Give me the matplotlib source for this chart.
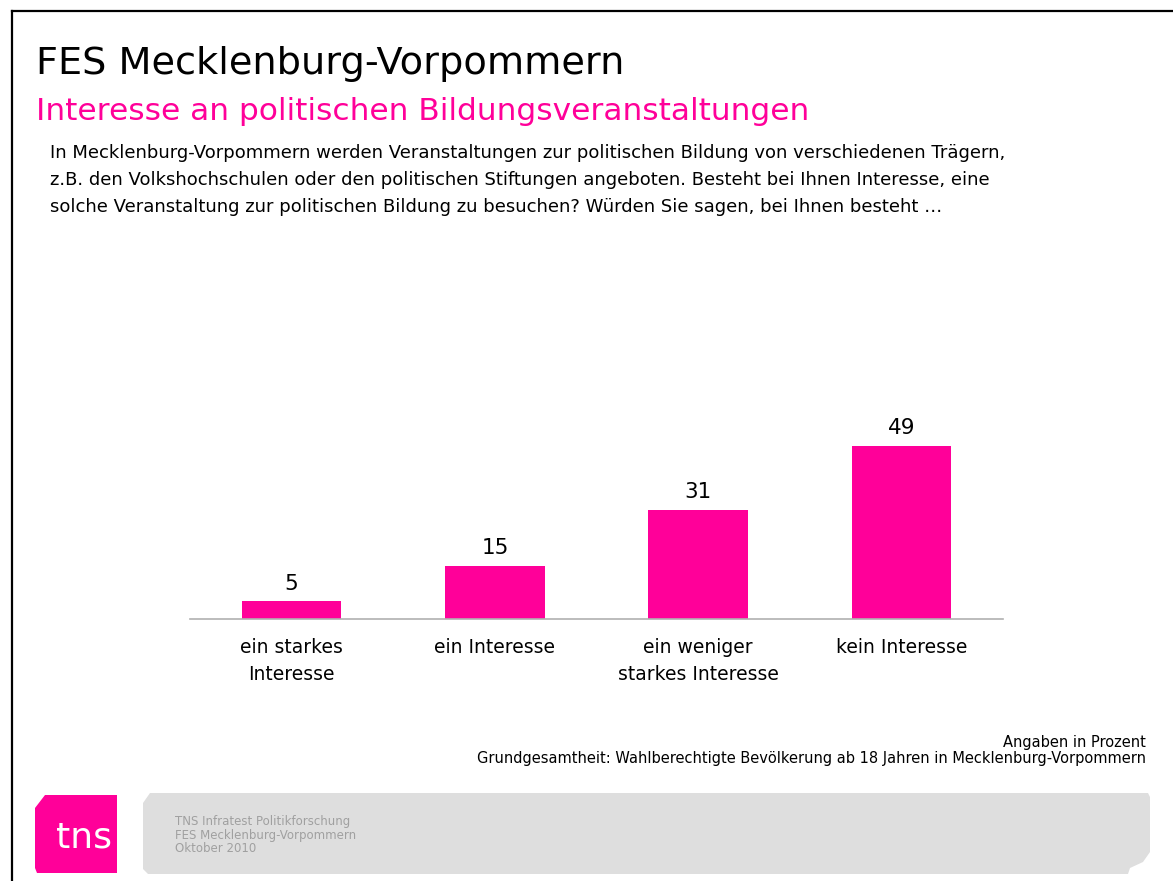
import matplotlib.pyplot as plt
from matplotlib.patches import Polygon
from matplotlib.lines import Line2D

plt.rcParams['font.family'] = ['DejaVu Sans']

# Daten
kategorien = ["ein starkes\nInteresse", "ein Interesse", "ein weniger\nstarkes Interesse", "kein Interesse"]
werte = [5, 15, 31, 49]

titel = "FES Mecklenburg-Vorpommern"
untertitel = "Interesse an politischen Bildungsveranstaltungen"
frage = [
    "In Mecklenburg-Vorpommern werden Veranstaltungen zur politischen Bildung von verschiedenen Trägern,",
    "z.B. den Volkshochschulen oder den politischen Stiftungen angeboten. Besteht bei Ihnen Interesse, eine",
    "solche Veranstaltung zur politischen Bildung zu besuchen? Würden Sie sagen, bei Ihnen besteht …",
]
fussnote = ["Angaben in Prozent",
            "Grundgesamtheit: Wahlberechtigte Bevölkerung ab 18 Jahren in Mecklenburg-Vorpommern"]
quelle = ["TNS Infratest Politikforschung", "FES Mecklenburg-Vorpommern", "Oktober 2010"]

PINK = "#ff0099"
W, H = 1173, 881


def px(x, y):
    return (x / W, 1 - y / H)


fig = plt.figure(figsize=(W / 100, H / 100), dpi=100)

# Rahmen oben / links
fig.add_artist(Line2D([12 / W, 1], [1 - 11 / H] * 2, color="black", lw=1.6, transform=fig.transFigure))
fig.add_artist(Line2D([12 / W] * 2, [0, 1 - 11 / H], color="black", lw=1.6, transform=fig.transFigure))

# Texte
fig.text(*px(36, 64), titel, fontsize=27.5, va="center", ha="left")
fig.text(*px(36, 112), untertitel, fontsize=22.5, color=PINK, va="center", ha="left")
for i, zeile in enumerate(frage):
    fig.text(*px(50, 153 + i * 27), zeile, fontsize=13, va="center", ha="left")

# Balken
ax = fig.add_axes([190 / W, 1 - 619 / H, (1003 - 190) / W, (619 - 380) / H])
x = range(len(werte))
ax.bar(x, werte, width=0.49, color=PINK)
for xi, v in zip(x, werte):
    ax.text(xi, v + 2.2, str(v), ha="center", va="bottom", fontsize=15.5)
ax.set_xlim(-0.5, 3.5)
ax.set_ylim(0, (619 - 380) / 3.53)
ax.set_xticks(list(x))
ax.set_xticklabels(kategorien, fontsize=13.5, linespacing=1.5, va="top")
ax.tick_params(axis="x", length=0, pad=14)
ax.set_yticks([])
for s in ["top", "right", "left"]:
    ax.spines[s].set_visible(False)
ax.spines["bottom"].set_color("#b0b0b0")
ax.spines["bottom"].set_linewidth(1.2)

# Fussnote
fig.text(*px(1146, 743), fussnote[0], fontsize=10.5, ha="right", va="center")
fig.text(*px(1146, 759), fussnote[1], fontsize=10.5, ha="right", va="center")

# grauer Kasten unten
kasten = [(150, 793), (1148, 793), (1150, 797), (1150, 852), (1143, 862), (1130, 868),
          (1128, 874), (148, 874), (143, 869), (143, 803)]
fig.add_artist(Polygon([px(a, b) for a, b in kasten], closed=True, facecolor="#dedede",
                       edgecolor="none", transform=fig.transFigure))
for i, zeile in enumerate(quelle):
    fig.text(*px(175, 821 + i * 14), zeile, fontsize=8.5, color="#a0a0a0", ha="left", va="center")

# tns Logo
logo = [(45, 795), (117, 795), (117, 873), (37, 873), (35, 868), (35, 808)]
fig.add_artist(Polygon([px(a, b) for a, b in logo], closed=True, facecolor=PINK,
                       edgecolor="none", transform=fig.transFigure))
fig.text(*px(84, 838), "tns", fontsize=26, color="white", ha="center", va="center")

fig.savefig("out.png", dpi=100)
